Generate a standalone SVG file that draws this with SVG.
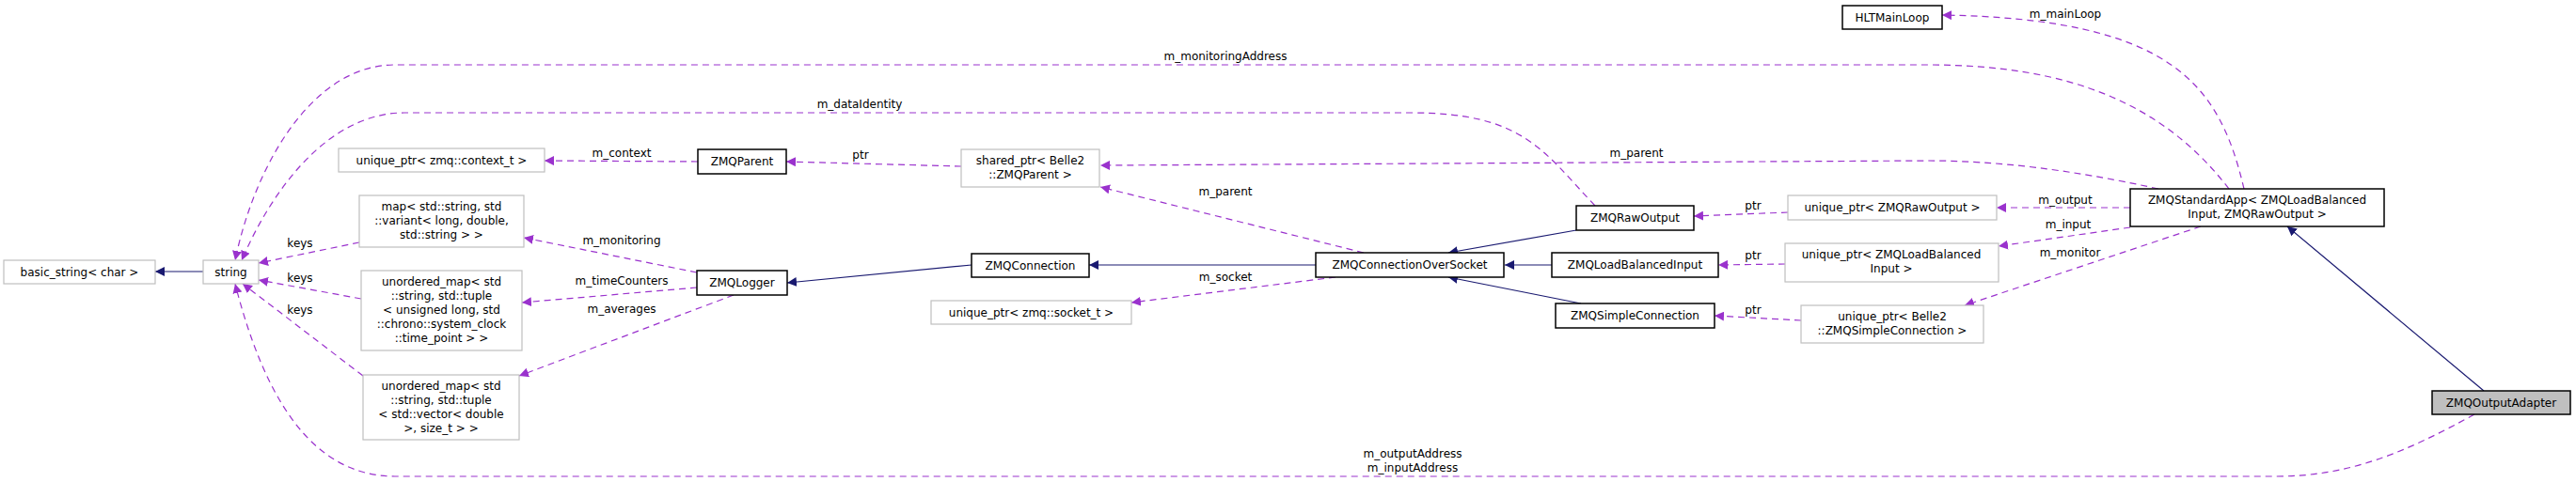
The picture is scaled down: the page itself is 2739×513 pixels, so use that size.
<svg xmlns="http://www.w3.org/2000/svg" width="2739" height="513" viewBox="0 0 2739 513">
<style>
text{font-family:"DejaVu Sans",sans-serif;font-size:12px;fill:#000;text-anchor:middle}
.n rect{fill:#fff;stroke:#000;stroke-width:1.5}
.g rect{fill:#fff;stroke:#bfbfbf;stroke-width:1.2}
.i{fill:none;stroke:#191970;stroke-width:1.2;marker-end:url(#ai)}
.u{fill:none;stroke:#9a32cd;stroke-width:1.2;stroke-dasharray:7,5;marker-end:url(#au)}
</style>
<defs>
<marker id="ai" viewBox="0 0 10 10" refX="10" refY="5" markerWidth="10" markerHeight="10" markerUnits="userSpaceOnUse" orient="auto"><path d="M0,0L10,5L0,10z" fill="#191970"/></marker>
<marker id="au" viewBox="0 0 10 10" refX="10" refY="5" markerWidth="10" markerHeight="10" markerUnits="userSpaceOnUse" orient="auto"><path d="M0,0L10,5L0,10z" fill="#9a32cd"/></marker>
</defs>
<rect width="2739" height="513" fill="#fff"/>
<g id="edges">
<path class="i" d="M216,289L165,289"/>
<path class="i" d="M1033,282L837,301"/>
<path class="i" d="M1400,282L1158,282"/>
<path class="i" d="M1676,245L1540,269"/>
<path class="i" d="M1650,282L1600,282"/>
<path class="i" d="M1681,323L1540,295"/>
<path class="i" d="M2641,416L2432,241"/>
<path class="u" d="M742,172L579,171"/>
<path class="u" d="M1022,177L836,172"/>
<path class="u" d="M1450,269L1170,199"/>
<path class="u" d="M1420,295L1203,322"/>
<path class="u" d="M741,290L557,253"/>
<path class="u" d="M741,306L555,322"/>
<path class="u" d="M780,314L552,400"/>
<path class="u" d="M382,258L275,280"/>
<path class="u" d="M384,318L275,298"/>
<path class="u" d="M386,400L258,302"/>
<path class="u" d="M1901,226L1801,230"/>
<path class="u" d="M1898,281L1827,282"/>
<path class="u" d="M1915,341L1823,336"/>
<path class="u" d="M2265,221L2123,221"/>
<path class="u" d="M2265,242L2125,262"/>
<path class="u" d="M2340,241L2089,325"/>
<path class="u" d="M2386,201C2360,90 2310,20 2065,16"/>
<path class="u" d="M2295,201C2200,180 2120,171 2050,171L1170,176"/>
<path class="u" d="M2370,201C2300,110 2200,69 2050,69L420,69C330,69 270,180 250,277"/>
<path class="u" d="M1696,219C1640,160 1620,120 1500,120L430,120C350,120 290,200 257,277"/>
<path class="u" d="M2631,441C2560,480 2500,507 2420,507L420,507C330,507 280,420 250,302"/>
<text x="2196" y="19">m_mainLoop</text>
<text x="1303" y="64">m_monitoringAddress</text>
<text x="914" y="115">m_dataIdentity</text>
<text x="661" y="167">m_context</text>
<text x="915" y="169">ptr</text>
<text x="1740" y="167">m_parent</text>
<text x="1303" y="208">m_parent</text>
<text x="1303" y="299">m_socket</text>
<text x="1864" y="223">ptr</text>
<text x="1864" y="276">ptr</text>
<text x="1864" y="334">ptr</text>
<text x="2196" y="217">m_output</text>
<text x="2199" y="243">m_input</text>
<text x="2201" y="273">m_monitor</text>
<text x="319" y="263">keys</text>
<text x="319" y="300">keys</text>
<text x="319" y="334">keys</text>
<text x="661" y="260">m_monitoring</text>
<text x="661" y="303">m_timeCounters</text>
<text x="661" y="333">m_averages</text>
<text x="1502" y="487">m_outputAddress</text>
<text x="1502" y="502">m_inputAddress</text>
</g>
<g id="ZMQOutputAdapter"><rect x="2586" y="416" width="147" height="25" fill="#bfbfbf" stroke="#000" stroke-width="1.5"/><text x="2659.5" y="433">ZMQOutputAdapter</text></g>
<g id="ZMQStandardApp" class="n"><rect x="2265" y="201" width="270" height="40"/><text x="2400" y="217">ZMQStandardApp&lt; ZMQLoadBalanced</text><text x="2400" y="232">Input, ZMQRawOutput &gt;</text></g>
<g id="HLTMainLoop" class="n"><rect x="1959" y="6" width="106" height="25"/><text x="2012" y="23">HLTMainLoop</text></g>
<g id="uRaw" class="g"><rect x="1901" y="208" width="222" height="26"/><text x="2012" y="225">unique_ptr&lt; ZMQRawOutput &gt;</text></g>
<g id="uLB" class="g"><rect x="1898" y="259" width="227" height="41"/><text x="2011" y="275">unique_ptr&lt; ZMQLoadBalanced</text><text x="2011" y="290">Input &gt;</text></g>
<g id="uSimple" class="g"><rect x="1915" y="325" width="194" height="40"/><text x="2012" y="341">unique_ptr&lt; Belle2</text><text x="2012" y="356">::ZMQSimpleConnection &gt;</text></g>
<g id="ZMQRawOutput" class="n"><rect x="1676" y="219" width="125" height="26"/><text x="1738.5" y="236">ZMQRawOutput</text></g>
<g id="ZMQLoadBalancedInput" class="n"><rect x="1650" y="269" width="177" height="26"/><text x="1738.5" y="286">ZMQLoadBalancedInput</text></g>
<g id="ZMQSimpleConnection" class="n"><rect x="1654" y="323" width="169" height="26"/><text x="1738.5" y="340">ZMQSimpleConnection</text></g>
<g id="ZMQConnectionOverSocket" class="n"><rect x="1399" y="269" width="200" height="26"/><text x="1499" y="286">ZMQConnectionOverSocket</text></g>
<g id="ZMQConnection" class="n"><rect x="1033" y="270" width="125" height="25"/><text x="1095.5" y="287">ZMQConnection</text></g>
<g id="sharedParent" class="g"><rect x="1022" y="159" width="147" height="40"/><text x="1095.5" y="175">shared_ptr&lt; Belle2</text><text x="1095.5" y="190">::ZMQParent &gt;</text></g>
<g id="uSocket" class="g"><rect x="990" y="320" width="213" height="25"/><text x="1096.5" y="337">unique_ptr&lt; zmq::socket_t &gt;</text></g>
<g id="ZMQParent" class="n"><rect x="742" y="159" width="94" height="26"/><text x="789" y="176">ZMQParent</text></g>
<g id="ZMQLogger" class="n"><rect x="741" y="288" width="96" height="26"/><text x="789" y="305">ZMQLogger</text></g>
<g id="uContext" class="g"><rect x="360" y="158" width="219" height="25"/><text x="469.5" y="175">unique_ptr&lt; zmq::context_t &gt;</text></g>
<g id="mapMon" class="g"><rect x="382" y="208" width="175" height="55"/><text x="469.5" y="224">map&lt; std::string, std</text><text x="469.5" y="239">::variant&lt; long, double,</text><text x="469.5" y="254">std::string &gt; &gt;</text></g>
<g id="umapTime" class="g"><rect x="384" y="288" width="171" height="85"/><text x="469.5" y="304">unordered_map&lt; std</text><text x="469.5" y="319">::string, std::tuple</text><text x="469.5" y="334">&lt; unsigned long, std</text><text x="469.5" y="349">::chrono::system_clock</text><text x="469.5" y="364">::time_point &gt; &gt;</text></g>
<g id="umapAvg" class="g"><rect x="386" y="399" width="166" height="69"/><text x="469" y="415">unordered_map&lt; std</text><text x="469" y="430">::string, std::tuple</text><text x="469" y="445">&lt; std::vector&lt; double</text><text x="469" y="460">&gt;, size_t &gt; &gt;</text></g>
<g id="string" class="g"><rect x="216" y="277" width="59" height="25"/><text x="245.5" y="294">string</text></g>
<g id="basic_string" class="g"><rect x="4" y="277" width="161" height="25"/><text x="84.5" y="294">basic_string&lt; char &gt;</text></g>
</svg>
